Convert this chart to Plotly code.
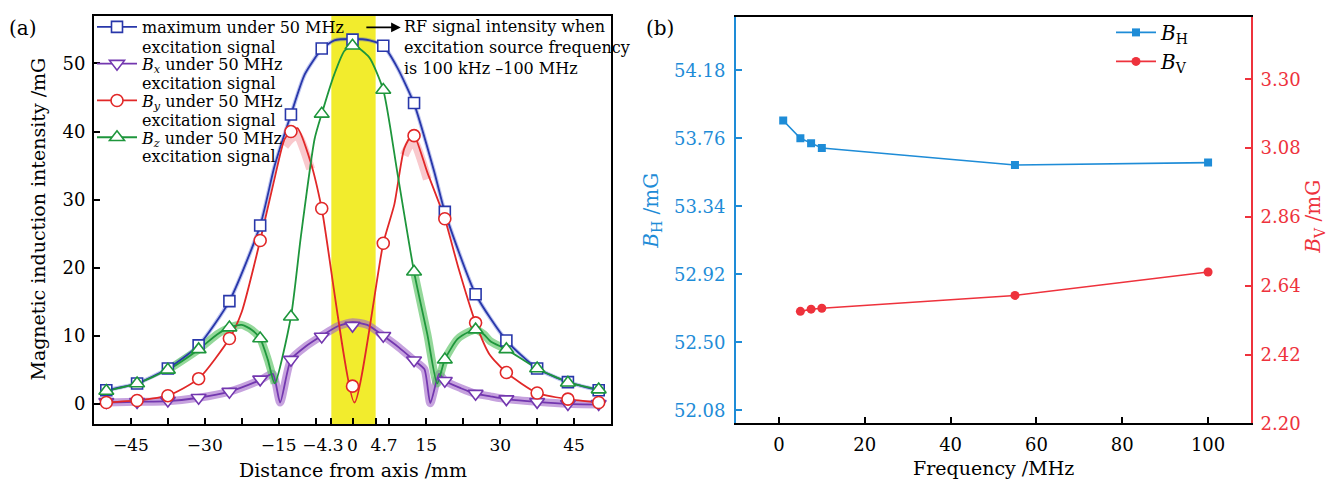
import plotly.graph_objects as go

FONT = "DejaVu Serif, Liberation Serif, serif"

# ---------------- Panel (a) data ----------------
mk_x = [-50, -43.75, -37.5, -31.25, -25, -18.75, -12.5, -6.25, 0, 6.25, 12.5, 18.75, 25, 31.25, 37.5, 43.75, 50]
max_m = [2.0, 3.0, 5.2, 8.6, 15.1, 26.2, 42.5, 52.2, 53.5, 52.6, 44.2, 28.2, 16.1, 9.3, 5.2, 3.2, 2.0]
bx_m = [0.3, 0.3, 0.5, 0.9, 1.8, 3.6, 6.5, 9.9, 11.5, 10.0, 6.4, 3.4, 1.5, 0.7, 0.3, 0.0, 0.0]
by_m = [0.2, 0.5, 1.2, 3.7, 9.6, 24.0, 40.0, 28.7, 2.6, 23.6, 39.4, 27.2, 11.9, 4.6, 1.6, 0.7, 0.2]
bz_m = [1.9, 3.0, 5.0, 8.0, 11.2, 9.6, 12.8, 42.6, 52.6, 46.1, 19.4, 6.5, 10.9, 8.0, 5.2, 3.1, 2.1]

max_cx = [-50, -43.75, -37.5, -31.25, -25, -18.75, -15.8, -12.5, -9.7, -6.25, -3.7, 0, 3.5, 6.25, 9.1, 12.5, 16.6, 18.75, 25, 31.25, 37.5, 43.75, 50]
max_cy = [2.0, 3.0, 5.2, 8.6, 15.1, 26.2, 35.0, 42.5, 48.4, 52.1, 53.4, 53.6, 53.4, 52.6, 49.4, 44.1, 34.1, 28.2, 16.1, 9.3, 5.2, 3.2, 2.0]

bx_cx = [-50, -43.75, -37.5, -31.25, -25, -18.75, -16.2, -14.7, -12.5, -9.4, -6.25, -3, 0, 3, 6.25, 9.4, 12.5, 14.6, 15.8, 17.6, 18.75, 22, 25, 28, 31.25, 37.5, 43.75, 50]
bx_cy = [0.2, 0.3, 0.4, 0.9, 1.8, 3.5, 4.4, 0.2, 6.5, 8.5, 10.0, 11.4, 12.0, 11.6, 10.0, 8.3, 6.4, 5.1, 0.1, 4.4, 3.4, 2.3, 1.5, 1.1, 0.7, 0.3, 0.0, -0.1]

by_cx = [-50, -43.75, -37.5, -31.25, -25, -22.5, -18.75, -15.8, -13.8, -12.5, -11.2, -8.5, -6.25, 0.4, 6.25, 8.5, 10.5, 12.3, 15.2, 18.75, 21.5, 25, 27.8, 31.25, 37.5, 43.75, 50]
by_cy = [0.2, 0.5, 1.2, 3.7, 9.6, 13.5, 24.0, 33.2, 38.9, 40.0, 40.5, 35.5, 28.7, 0.2, 23.6, 29.3, 37.5, 39.7, 34.0, 27.2, 20.0, 11.9, 7.3, 4.6, 1.6, 0.7, 0.2]

bz_cx = [-50, -43.75, -37.5, -31.25, -27.5, -25, -22.5, -20.5, -18.75, -17.2, -15.8, -12.5, -10.5, -7.7, -6.25, -3.7, -1.6, 0.4, 3.4, 6.25, 9.1, 12.5, 15.2, 17.2, 18.75, 21.3, 23.7, 25, 26.7, 28, 31.25, 37.5, 43.75, 50]
bz_cy = [1.9, 3.0, 5.0, 8.0, 10.2, 11.2, 11.6, 10.9, 9.6, 6.5, 3.0, 12.8, 24.5, 38.9, 42.6, 48.4, 51.9, 52.6, 50.9, 46.1, 34.0, 19.4, 10.2, 3.0, 6.5, 9.5, 10.6, 10.9, 10.2, 9.2, 8.0, 5.2, 3.2, 2.1]

x_tickvals = [-45, -30, -15, -4.3, 0, 4.7, 15, 30, 45]
x_ticktext = ["\u221245", "\u221230", "\u221215", "\u22124.3\u2003", "0", "\u20034.7", "15", "30", "45"]
x_minor = [-37.5, -22.5, -7.5, 7.5, 22.5, 37.5]
y_tickvals = [0, 10, 20, 30, 40, 50]
band_lo, band_hi = -4.3, 4.7

legend_line1 = ["maximum under 50 MHz",
                "<i>B</i><sub><i>x</i></sub> under 50 MHz",
                "<i>B</i><sub><i>y</i></sub> under 50 MHz",
                "<i>B</i><sub><i>z</i></sub> under 50 MHz"]
legend_line2 = "excitation signal"

# ---------------- Panel (b) data ----------------
freq_h = [1, 5, 7.5, 10, 55, 100]
bh = [53.87, 53.76, 53.73, 53.70, 53.595, 53.61]
freq_v = [5, 7.5, 10, 55, 100]
bv = [2.558, 2.565, 2.568, 2.609, 2.684]
bh_ticks = [52.08, 52.50, 52.92, 53.34, 53.76, 54.18]
bv_ticks = [2.20, 2.42, 2.64, 2.86, 3.08, 3.30]
f_ticks = [0, 20, 40, 60, 80, 100]

BLUE = "rgb(40,55,170)"
PURPLE = "rgb(115,55,175)"
RED = "rgb(225,40,40)"
GREEN = "rgb(30,150,60)"
CB = "rgb(30,140,215)"
CR = "rgb(238,50,60)"

fig = go.Figure()

def sl(xs, ys, a, b):
    return xs[a:b], ys[a:b]

# bands (translucent thick lines)
fig.add_trace(go.Scatter(x=max_cx, y=max_cy, mode="lines", line=dict(color="rgba(70,90,210,0.35)", width=4, shape="spline", smoothing=0.6), showlegend=False, hoverinfo="skip"))
fig.add_trace(go.Scatter(x=bx_cx, y=bx_cy, mode="lines", line=dict(color="rgba(160,100,200,0.6)", width=8, shape="spline", smoothing=0.6), showlegend=False, hoverinfo="skip"))
for a, b in [(2, 11), (21, 31)]:
    xs, ys = sl(bz_cx, bz_cy, a, b)
    fig.add_trace(go.Scatter(x=xs, y=ys, mode="lines", line=dict(color="rgba(90,195,100,0.65)", width=8, shape="spline", smoothing=0.6), showlegend=False, hoverinfo="skip"))
for a, b in [(8, 12), (16, 19)]:
    xs, ys = sl(by_cx, by_cy, a, b)
    fig.add_trace(go.Scatter(x=xs, y=[v - 1.0 for v in ys], mode="lines", line=dict(color="rgba(240,120,130,0.4)", width=9, shape="spline", smoothing=0.6), showlegend=False, hoverinfo="skip"))

# main lines
for cx, cy, col in [(max_cx, max_cy, BLUE), (bx_cx, bx_cy, PURPLE), (by_cx, by_cy, RED), (bz_cx, bz_cy, GREEN)]:
    fig.add_trace(go.Scatter(x=cx, y=cy, mode="lines", line=dict(color=col, width=1.8, shape="spline", smoothing=0.6), showlegend=False, hoverinfo="skip"))

# markers
specs = [
    (max_m, BLUE, "square", 11),
    (bx_m, PURPLE, "triangle-down", 13),
    (by_m, RED, "circle", 12),
    (bz_m, GREEN, "triangle-up", 13),
]
for vals, col, sym, sz in specs:
    fig.add_trace(go.Scatter(x=mk_x, y=vals, mode="markers",
                             marker=dict(symbol=sym, size=sz, color="white", line=dict(color=col, width=1.6)),
                             showlegend=False))
for i, (vals, col, sym, sz) in enumerate(specs):
    fig.add_trace(go.Scatter(x=[None], y=[None], mode="lines+markers", name=legend_line1[i],
                             legendgroup="g%d" % i,
                             line=dict(color=col, width=1.8),
                             marker=dict(symbol=sym, size=sz, color="white", line=dict(color=col, width=1.6)),
                             legend="legend"))

# panel (b)
fig.add_trace(go.Scatter(x=freq_h, y=bh, mode="lines+markers", name="<i>B</i><sub>H</sub>",
                         line=dict(color=CB, width=1.6), marker=dict(symbol="square", size=8, color=CB),
                         xaxis="x2", yaxis="y2", legend="legend2"))
fig.add_trace(go.Scatter(x=freq_v, y=bv, mode="lines+markers", name="<i>B</i><sub>V</sub>",
                         line=dict(color=CR, width=1.6), marker=dict(symbol="circle", size=9, color=CR),
                         xaxis="x2", yaxis="y3", legend="legend2"))

W, H = 1334, 488
def px(x0, x1):
    return [x0 / W, x1 / W]
def py(top, bot):
    return [1 - bot / H, 1 - top / H]

TS = 18
tickfont = dict(family=FONT, size=TS, color="black")

fig.update_layout(
    width=W, height=H, autosize=False,
    margin=dict(l=0, r=0, t=0, b=0),
    paper_bgcolor="white", plot_bgcolor="white",
    font=dict(family=FONT, size=16, color="black"),
    xaxis=dict(domain=px(86, 603), range=[-52.5, 52.5], tickvals=x_tickvals, ticktext=x_ticktext, tickangle=0,
               ticks="inside", ticklen=6, tickwidth=1.5, tickcolor="black", ticklabelstandoff=4,
               minor=dict(tickvals=x_minor, ticks="inside", ticklen=6, tickwidth=1.5, tickcolor="black", showgrid=False),
               showline=True, linecolor="black", linewidth=1.8, mirror=True,
               showgrid=False, zeroline=False, tickfont=dict(family=FONT, size=17, color="black"), anchor="y"),
    yaxis=dict(domain=py(8, 425), range=[-3, 57], tickvals=y_tickvals,
               ticks="inside", ticklen=6, tickwidth=1.5, tickcolor="black", ticklabelstandoff=3,
               showline=True, linecolor="black", linewidth=1.8, mirror=True,
               showgrid=False, zeroline=False, tickfont=tickfont, anchor="x"),
    xaxis2=dict(domain=px(728, 1243), range=[-10, 110], tickvals=f_ticks, tickangle=0,
                ticks="inside", ticklen=6, tickwidth=1.5, tickcolor="black", ticklabelstandoff=4,
                showline=True, linecolor="black", linewidth=1.8, mirror=True,
                showgrid=False, zeroline=False, tickfont=tickfont, anchor="y2"),
    yaxis2=dict(domain=py(9, 424), range=[52.0, 54.51], tickvals=bh_ticks, tickformat=".2f",
                ticks="inside", ticklen=6, tickwidth=1.5, tickcolor=CB, ticklabelstandoff=5,
                showline=True, linecolor=CB, linewidth=1.8,
                showgrid=False, zeroline=False, tickfont=dict(family=FONT, size=TS, color=CB), anchor="x2"),
    yaxis3=dict(domain=py(9, 424), range=[2.20, 3.50], tickvals=bv_ticks, tickformat=".2f",
                ticks="inside", ticklen=6, tickwidth=1.5, tickcolor=CR, ticklabelstandoff=4,
                showline=True, linecolor=CR, linewidth=1.8, side="right", overlaying="y2",
                showgrid=False, zeroline=False, tickfont=dict(family=FONT, size=TS, color=CR), anchor="x2"),
    legend=dict(x=84 / W, y=1 - 2 / H, xanchor="left", yanchor="top", bgcolor="rgba(0,0,0,0)",
                font=dict(family=FONT, size=16, color="black"), tracegroupgap=13, itemwidth=40),
    legend2=dict(x=1103 / W, y=1 - 5 / H, xanchor="left", yanchor="top", bgcolor="rgba(0,0,0,0)",
                 font=dict(family=FONT, size=20, color="black"), itemwidth=40, tracegroupgap=0),
    shapes=[dict(type="rect", xref="x", yref="y domain", x0=band_lo, x1=band_hi, y0=0, y1=1,
                 fillcolor="rgb(242,236,45)", line=dict(width=0), layer="below")],
)

ann = [
    dict(text="(a)", x=15 / W, y=1 - 20 / H, xref="paper", yref="paper", showarrow=False, font=dict(size=20), xanchor="center", yanchor="middle"),
    dict(text="(b)", x=652 / W, y=1 - 20 / H, xref="paper", yref="paper", showarrow=False, font=dict(size=20), xanchor="center", yanchor="middle"),
    dict(text="Magnetic induction intensity /mG", x=30 / W, y=1 - 216 / H, xref="paper", yref="paper", showarrow=False,
         textangle=-90, font=dict(size=19), xanchor="center", yanchor="middle"),
    dict(text="Distance from axis /mm", x=345 / W, y=1 - 472 / H, xref="paper", yref="paper", showarrow=False,
         font=dict(size=19), xanchor="center", yanchor="middle"),
    dict(text="Frequency /MHz", x=985 / W, y=1 - 470 / H, xref="paper", yref="paper", showarrow=False,
         font=dict(size=19), xanchor="center", yanchor="middle"),
    dict(text="<i>B</i><sub>H</sub> /mG", x=644 / W, y=1 - 207 / H, xref="paper", yref="paper", showarrow=False,
         textangle=-90, font=dict(size=20, color=CB), xanchor="center", yanchor="middle"),
    dict(text="<i>B</i><sub>V</sub> /mG", x=1306 / W, y=1 - 213 / H, xref="paper", yref="paper", showarrow=False,
         textangle=-90, font=dict(size=20, color=CR), xanchor="center", yanchor="middle"),
    dict(text="RF signal intensity when<br>excitation source frequency<br>is 100 kHz \u2013100 MHz",
         x=394 / W, y=1 - 40 / H, xref="paper", yref="paper", showarrow=False, align="left",
         font=dict(size=16), xanchor="left", yanchor="middle"),
    dict(x=9.8, y=55.3, ax=2.0, ay=55.3, xref="x", yref="y", axref="x", ayref="y",
         showarrow=True, arrowhead=2, arrowsize=1.2, arrowwidth=1.6, arrowcolor="black"),
]
for k in range(4):
    ann.append(dict(text=legend_line2, x=132 / W, y=1 - (40 + 37.3 * k) / H, xref="paper", yref="paper",
                    showarrow=False, font=dict(size=16), xanchor="left", yanchor="middle"))
fig.update_layout(annotations=ann)

fig.write_html("out.html")
